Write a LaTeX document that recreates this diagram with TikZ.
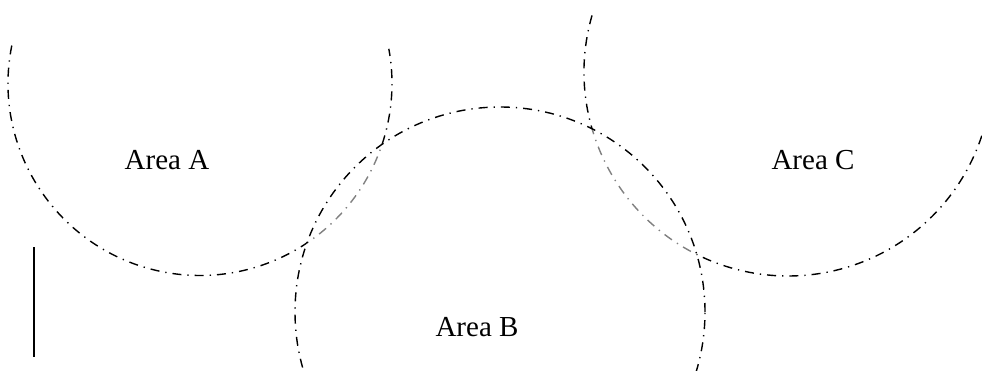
\documentclass[tikz,border=0pt]{standalone}
\usepackage{fontspec}
\setmainfont{Liberation Serif}
\begin{document}
\begin{tikzpicture}[x=1pt,y=1pt,
  arealine/.style={line width=1.4pt, dash pattern=on 9pt off 6pt on 1.3pt off 6pt},
  lbl/.style={font=\fontsize{29}{34}\selectfont, inner sep=0pt}]
\useasboundingbox (0,0) rectangle (982,370);
\clip (0,0) rectangle (982,370);
% Area A arc
\draw[arealine] (200,286.5) ++(168.6:192pt) arc[start angle=168.6, end angle=370.4, radius=192pt];
% Area C arc
\draw[arealine] (788,298) ++(163.9:204pt) arc[start angle=163.9, end angle=352, radius=204pt];
% Area B circle over them
\fill[white, fill opacity=0.5] (500,58) circle[radius=205pt];
\draw[arealine] (500,58) circle[radius=205pt];
% labels
\node[lbl] (la) at (167,210) {Area A};
\node[lbl] (lb) at (477,43) {Area B};
\node[lbl] (lc) at (813,210) {Area C};
% vertical bar
\draw[line width=1.6pt] (34,123) -- (34,13);
\end{tikzpicture}
\end{document}
